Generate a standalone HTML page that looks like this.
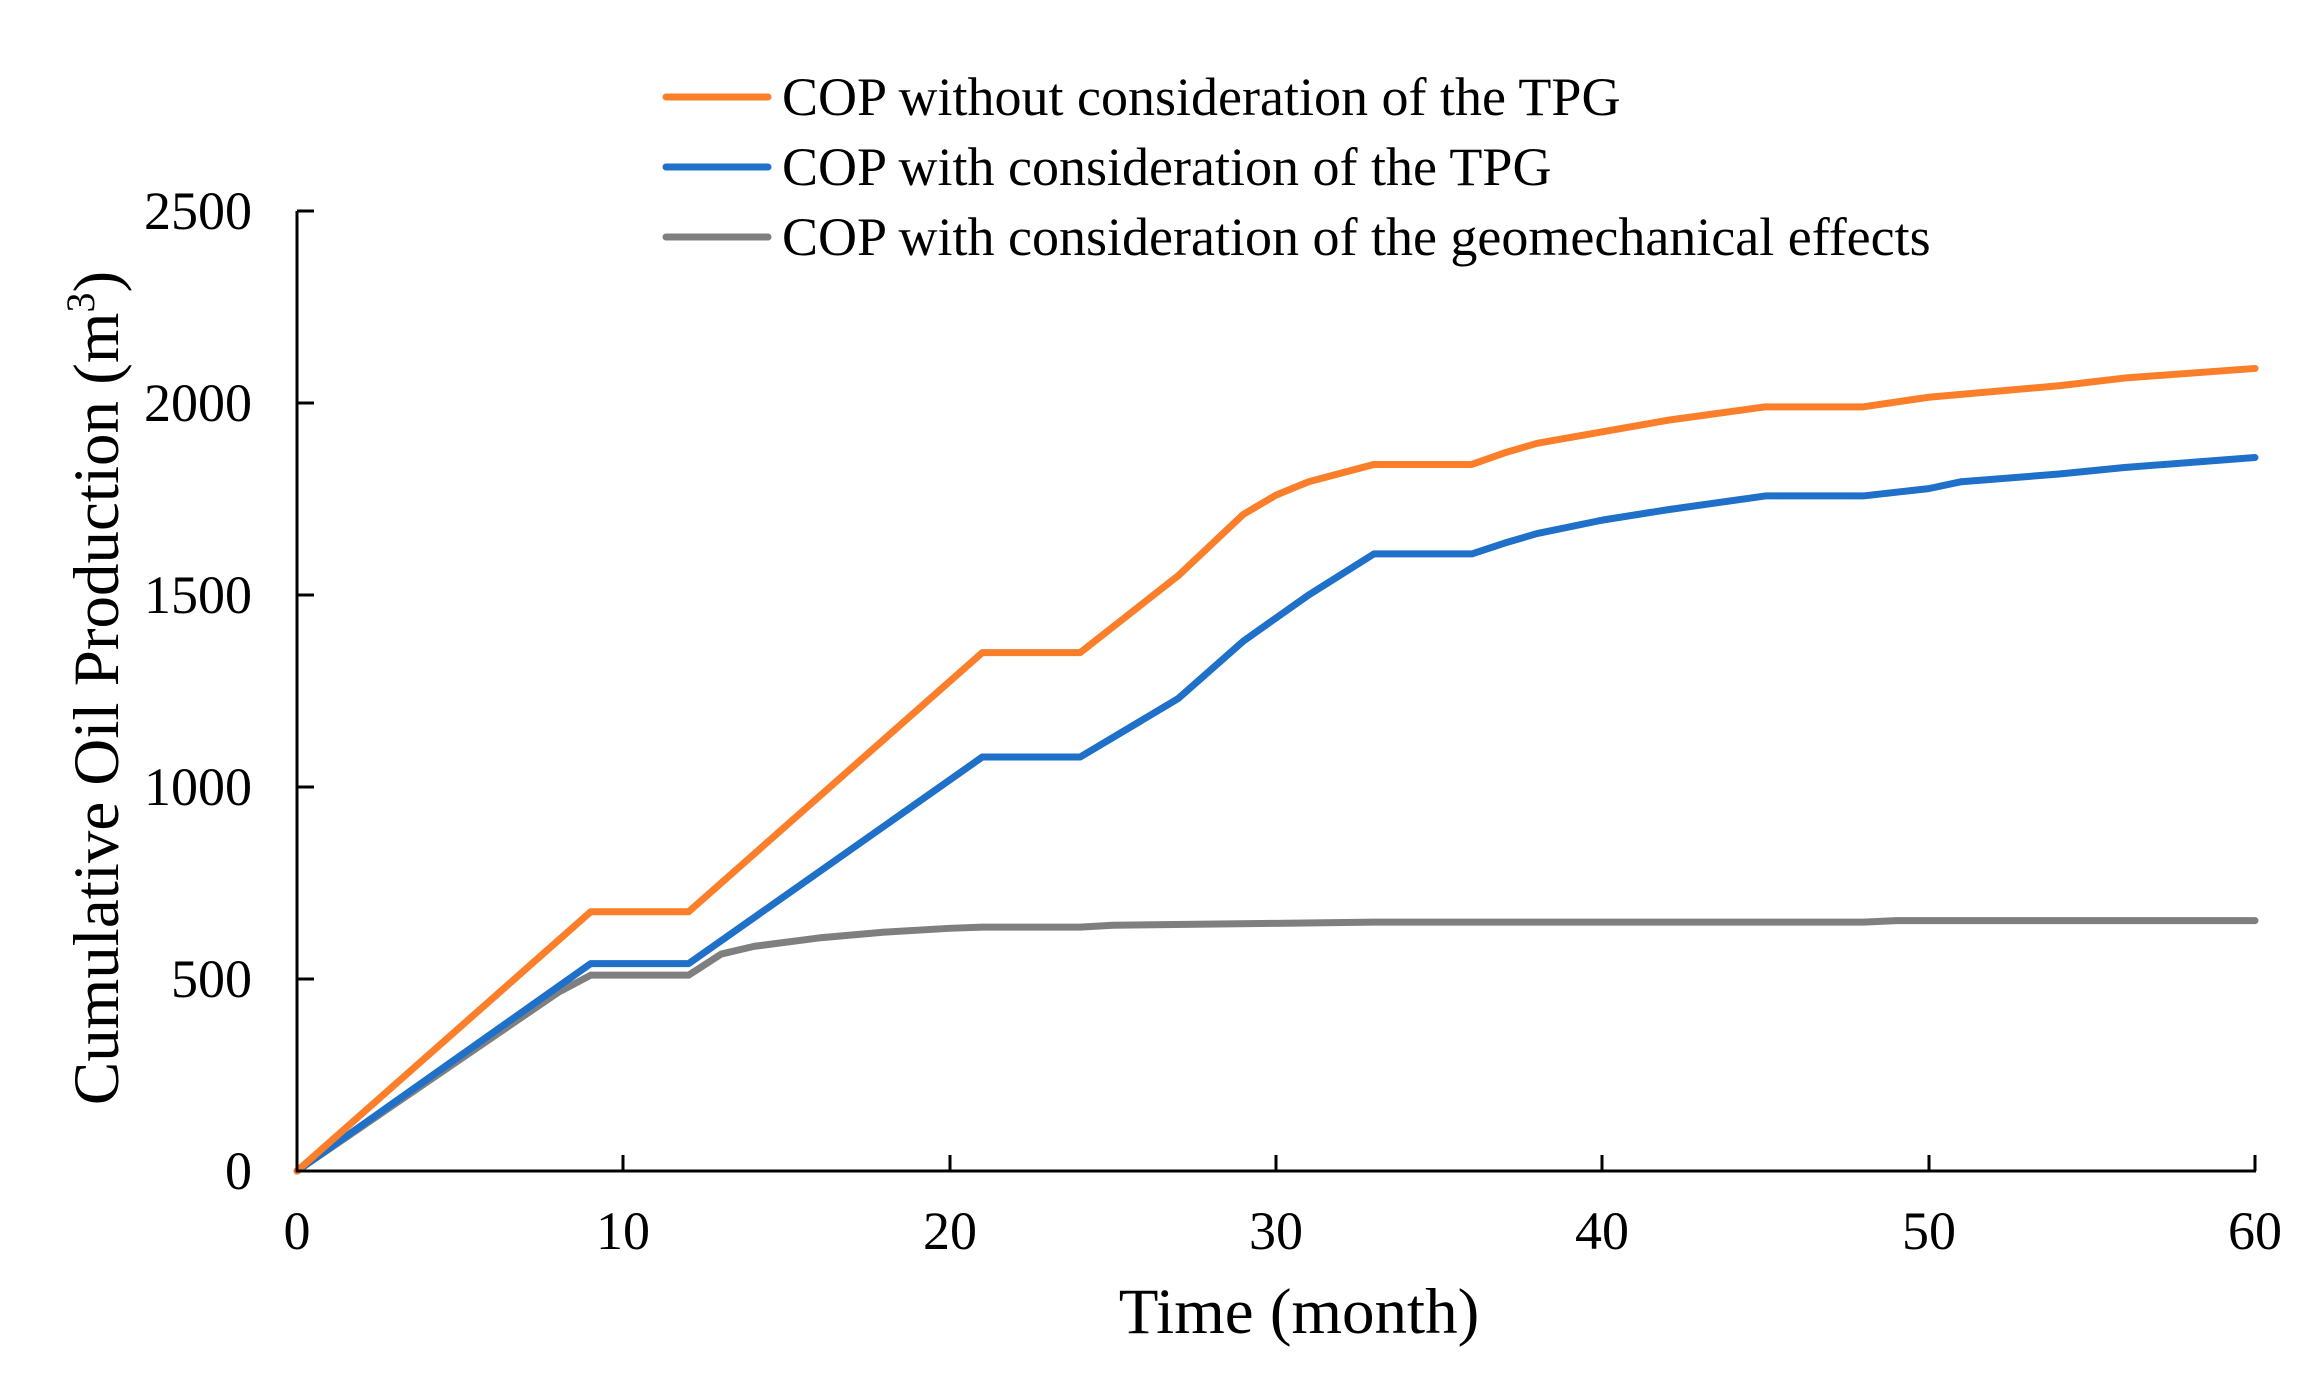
<!DOCTYPE html>
<html><head><meta charset="utf-8"><style>
html,body{margin:0;padding:0;background:#fff;}
svg{display:block;}
text{font-family:"Liberation Serif",serif;fill:#000;}
</style></head><body>
<svg width="2313" height="1382" viewBox="0 0 2313 1382" xmlns="http://www.w3.org/2000/svg">
<g fill="none" stroke-linejoin="round" stroke-linecap="round" transform="translate(297,1171) scale(32.633,-0.384)">
<polyline vector-effect="non-scaling-stroke" stroke="#7f7f7f" stroke-width="7" points="0,0 8,465 9,510 12,510 13,565 14,585 16,607 18,622 20,632 21,635 24,635 25,640 30,645 33,648 48,648 49,652 60,652"/>
<polyline vector-effect="non-scaling-stroke" stroke="#1f70c8" stroke-width="7" points="0,0 9,540 12,540 21,1078 24,1078 27,1230 29,1380 31,1500 33,1607 36,1607 37,1635 38,1660 40,1695 42,1722 45,1758 48,1758 50,1777 51,1795 54,1815 56,1832 60,1858"/>
<polyline vector-effect="non-scaling-stroke" stroke="#fb7f2a" stroke-width="7" points="0,0 7,525 9,675 12,675 21,1350 24,1350 27,1550 29,1710 30,1760 31,1795 33,1840 36,1840 37,1870 38,1895 40,1925 42,1955 45,1990 48,1990 50,2015 54,2045 56,2065 60,2090"/>
</g>
<g stroke="#000" stroke-width="3" fill="none">
<line x1="297" y1="211" x2="297" y2="1172"/>
<line x1="296" y1="1171" x2="2256" y2="1171"/>
<line x1="297" y1="211" x2="314" y2="211"/>
<line x1="297" y1="403" x2="314" y2="403"/>
<line x1="297" y1="595" x2="314" y2="595"/>
<line x1="297" y1="787" x2="314" y2="787"/>
<line x1="297" y1="979" x2="314" y2="979"/>
<line x1="623" y1="1171" x2="623" y2="1155"/>
<line x1="950" y1="1171" x2="950" y2="1155"/>
<line x1="1276" y1="1171" x2="1276" y2="1155"/>
<line x1="1602" y1="1171" x2="1602" y2="1155"/>
<line x1="1929" y1="1171" x2="1929" y2="1155"/>
<line x1="2255" y1="1171" x2="2255" y2="1155"/>
</g>
<g font-size="54" text-anchor="end">
<text x="252" y="229">2500</text>
<text x="252" y="421">2000</text>
<text x="252" y="613">1500</text>
<text x="252" y="805">1000</text>
<text x="252" y="997">500</text>
<text x="252" y="1189">0</text>
</g>
<g font-size="54" text-anchor="middle">
<text x="297" y="1249">0</text>
<text x="623" y="1249">10</text>
<text x="950" y="1249">20</text>
<text x="1276" y="1249">30</text>
<text x="1602" y="1249">40</text>
<text x="1929" y="1249">50</text>
<text x="2255" y="1249">60</text>
</g>
<text x="1299" y="1333" font-size="65" text-anchor="middle">Time (month)</text>
<text transform="translate(118,688) rotate(-90)" font-size="65" text-anchor="middle">Cumulative Oil Production (m<tspan font-size="40" dy="-24">3</tspan><tspan dy="24">)</tspan></text>
<g stroke-width="7" stroke-linecap="round">
<line x1="666" y1="97" x2="768" y2="97" stroke="#fb7f2a"/>
<line x1="666" y1="167" x2="768" y2="167" stroke="#1f70c8"/>
<line x1="666" y1="237" x2="768" y2="237" stroke="#7f7f7f"/>
</g>
<g font-size="54">
<text x="782" y="115">COP without consideration of the TPG</text>
<text x="782" y="185">COP with consideration of the TPG</text>
<text x="782" y="255">COP with consideration of the geomechanical effects</text>
</g>
</svg>
</body></html>
